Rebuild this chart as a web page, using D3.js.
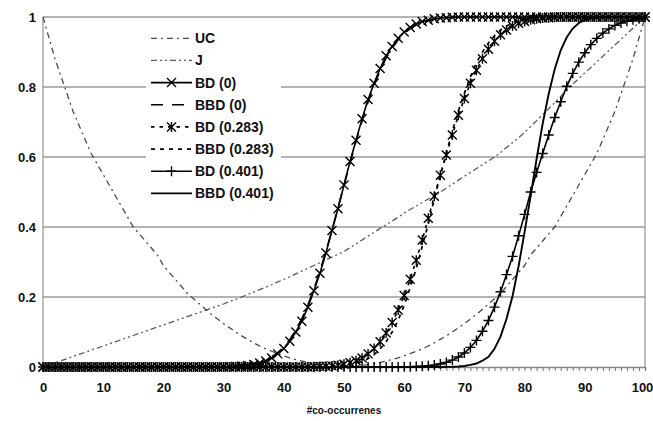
<!DOCTYPE html>
<html>
<head>
<meta charset="utf-8">
<script src="https://cdn.jsdelivr.net/npm/d3@7/dist/d3.min.js"></script>
<style>
  body { margin: 0; background: #fff; }
  text { font-family: "Liberation Sans", Arial, sans-serif; font-weight: bold; fill: #111; }
</style>
</head>
<body>
<div id="chart"></div>
<script>
// categories 0..100 (#co-occurrences)
var xCats = d3.range(0, 101);
var xTickLabels = [0, 10, 20, 30, 40, 50, 60, 70, 80, 90, 100];
var yTicks = [0, 0.2, 0.4, 0.6, 0.8, 1];

var seriesNames = ["UC", "J", "BD (0)", "BBD (0)", "BD (0.283)", "BBD (0.283)", "BD (0.401)", "BBD (0.401)"];

// values, one per category
var uc = [1.00,0.94,0.88,0.83,0.78,0.73,0.69,0.65,0.61,0.58,
  0.55,0.52,0.49,0.46,0.43,0.40,0.38,0.36,0.34,0.32,
  0.29,0.27,0.25,0.23,0.21,0.195,0.18,0.165,0.15,0.137,
  0.124,0.112,0.100,0.089,0.079,0.069,0.060,0.052,0.045,0.038,
  0.032,0.026,0.021,0.017,0.013,0.010,0.007,0.005,0.003,0.001,
  0.000,
  0.001,0.003,0.005,0.007,0.010,0.013,0.017,0.021,0.026,0.032,
  0.038,0.045,0.052,0.060,0.069,0.079,0.089,0.100,0.112,0.124,
  0.137,0.15,0.165,0.18,0.195,0.21,0.23,0.25,0.27,0.29,
  0.32,0.34,0.36,0.38,0.40,0.43,0.46,0.49,0.52,0.55,
  0.58,0.61,0.65,0.69,0.73,0.78,0.83,0.88,0.94,1.00];

var j = [0,0.006,0.012,0.018,0.024,0.03,0.036,0.042,0.048,0.054,
  0.06,0.066,0.072,0.078,0.084,0.09,0.096,0.102,0.108,0.114,
  0.12,0.126,0.132,0.138,0.144,0.15,0.156,0.162,0.168,0.174,
  0.18,0.187,0.193,0.200,0.207,0.214,0.221,0.228,0.235,0.243,
  0.25,0.258,0.266,0.274,0.282,0.290,0.298,0.306,0.314,0.322,
  0.330,0.341,0.352,0.363,0.374,0.385,0.396,0.406,0.417,0.428,
  0.440,0.450,0.460,0.470,0.480,0.490,0.500,0.511,0.522,0.534,
  0.545,0.556,0.567,0.578,0.589,0.600,0.613,0.627,0.641,0.655,
  0.670,0.687,0.704,0.721,0.738,0.755,0.773,0.791,0.808,0.824,
  0.840,0.856,0.872,0.888,0.904,0.920,0.936,0.952,0.968,0.984,
  1.0];

var bd0 = [0,0,0,0,0,0,0,0,0,0,
  0,0,0,0,0,0,0,0,0,0,
  0,0,0,0,0,0,0,0,0,0,
  0.0005,0.0009,0.0016,0.0027,0.0044,0.0071,0.0113,0.017,0.0256,0.0375,
  0.0526,0.0735,0.100,0.131,0.171,0.218,0.268,0.326,0.390,0.452,
  0.520,0.587,0.648,0.709,0.764,0.811,0.853,0.889,0.916,0.939,
  0.957,0.970,0.980,0.987,0.991,0.995,0.997,0.998,0.999,1,
  1,1,1,1,1,1,1,1,1,1,
  1,1,1,1,1,1,1,1,1,1,
  1,1,1,1,1,1,1,1,1,1,
  1];

var bbd0 = [0,0,0,0,0,0,0,0,0,0,
  0,0,0,0,0,0,0,0,0,0,
  0,0,0,0,0,0,0,0,0,0,
  0.0007,0.0012,0.002,0.0033,0.0053,0.0084,0.013,0.019,0.029,0.041,
  0.057,0.078,0.105,0.138,0.177,0.222,0.273,0.330,0.391,0.455,
  0.519,0.583,0.645,0.703,0.758,0.805,0.847,0.883,0.911,0.935,
  0.953,0.967,0.977,0.985,0.990,0.994,0.996,0.998,0.999,1,
  1,1,1,1,1,1,1,1,1,1,
  1,1,1,1,1,1,1,1,1,1,
  1,1,1,1,1,1,1,1,1,1,
  1];

var bd283 = [0,0,0,0,0,0,0,0,0,0,
  0,0,0,0,0,0,0,0,0,0,
  0,0,0,0,0,0,0,0,0,0,
  0,0,0,0,0,0,0,0,0,0,
  0,0,0,0,0,0.0007,0.0011,0.0019,0.0032,0.0051,
  0.008,0.0122,0.018,0.026,0.0375,0.0526,0.072,0.097,0.127,0.163,
  0.204,0.251,0.305,0.363,0.425,0.488,0.548,0.606,0.663,0.719,
  0.767,0.811,0.848,0.881,0.908,0.931,0.949,0.963,0.974,0.982,
  0.987,0.992,0.995,0.997,0.998,0.999,1,1,1,1,
  1,1,1,1,1,1,1,1,1,1,
  1];

var bbd283 = [0,0,0,0,0,0,0,0,0,0,
  0,0,0,0,0,0,0,0,0,0,
  0,0,0,0,0,0,0,0,0,0,
  0,0,0,0,0,0,0,0,0,0,
  0,0,0,0,0,0,0,0.0007,0.0012,0.0021,
  0.0037,0.006,0.0099,0.0154,0.0239,0.0352,0.0516,0.072,0.100,0.134,
  0.176,0.227,0.281,0.345,0.409,0.480,0.548,0.611,0.674,0.732,
  0.782,0.829,0.869,0.900,0.926,0.947,0.963,0.974,0.983,0.989,
  0.993,0.996,0.997,0.998,0.999,1,1,1,1,1,
  1,1,1,1,1,1,1,1,1,1,
  1];

var bd401 = [0,0,0,0,0,0,0,0,0,0,
  0,0,0,0,0,0,0,0,0,0,
  0,0,0,0,0,0,0,0,0,0,
  0,0,0,0,0,0,0,0,0,0,
  0,0,0,0,0,0,0,0,0,0,
  0,0,0,0,0,0,0,0,0,0,
  0.0004,0.0008,0.0013,0.0021,0.0035,0.0055,0.0087,0.0132,0.0197,0.0287,
  0.040,0.056,0.076,0.102,0.133,0.171,0.215,0.264,0.316,0.375,
  0.436,0.5,0.556,0.610,0.663,0.713,0.758,0.802,0.839,0.871,
  0.898,0.921,0.939,0.954,0.966,0.976,0.983,0.988,0.992,0.995,
  1];

var bbd401 = [0,0,0,0,0,0,0,0,0,0,
  0,0,0,0,0,0,0,0,0,0,
  0,0,0,0,0,0,0,0,0,0,
  0,0,0,0,0,0,0,0,0,0,
  0,0,0,0,0,0,0,0,0,0,
  0,0,0,0,0,0,0,0,0,0,
  0,0,0,0,0,0,0,0.0003,0.0007,0.0015,
  0.003,0.006,0.010,0.018,0.029,0.052,0.087,0.138,0.203,0.288,
  0.386,0.488,0.595,0.695,0.780,0.851,0.905,0.942,0.967,0.983,
  0.991,0.996,0.998,0.999,1,1,1,1,1,1,
  1];

var seriesValues = [uc, j, bd0, bbd0, bd283, bbd283, bd401, bbd401];

// drawing styles per series (same order as seriesNames)
var styles = [
  {stroke: "#4a4a4a", width: 1.3, dash: "6,4,2,4", marker: null},
  {stroke: "#5a5a5a", width: 1.3, dash: "6,3,2,3,2,3", marker: null},
  {stroke: "#000", width: 1.6, dash: null, marker: "x"},
  {stroke: "#000", width: 1.7, dash: "12,9", marker: null},
  {stroke: "#000", width: 1.6, dash: "3.5,5", marker: "star"},
  {stroke: "#000", width: 1.7, dash: "4,5", marker: null},
  {stroke: "#000", width: 1.6, dash: null, marker: "plus"},
  {stroke: "#000", width: 1.9, dash: null, marker: null}
];

var markerPath = {
  x: "M-4.5,-4.5L4.5,4.5M-4.5,4.5L4.5,-4.5",
  star: "M-4.5,-4.5L4.5,4.5M-4.5,4.5L4.5,-4.5M0,-5L0,5",
  plus: "M-5,0L5,0M0,-5L0,5"
};

var W = 653, H = 421,
    margin = {top: 17, right: 8, bottom: 54, left: 43},
    width = W - margin.left - margin.right,
    height = H - margin.top - margin.bottom;

var svg = d3.select("#chart").append("svg")
    .attr("width", W)
    .attr("height", H);

var g = svg.append("g")
    .attr("transform", "translate(" + margin.left + "," + margin.top + ")");

var xScale = d3.scaleLinear().domain([0, 100]).range([0, width]);
var yScale = d3.scaleLinear().domain([0, 1]).range([height, 0]);

// gridlines
g.selectAll(".grid")
  .data(yTicks.filter(function(d) { return d > 0; }))
  .enter().append("line")
    .attr("class", "grid")
    .attr("x1", 0).attr("x2", width)
    .attr("y1", function(d) { return yScale(d); })
    .attr("y2", function(d) { return yScale(d); })
    .attr("stroke", "#9a9a9a")
    .attr("stroke-width", 1.3);

// left / right borders
g.append("line").attr("x1", 0).attr("x2", 0).attr("y1", 0).attr("y2", height)
  .attr("stroke", "#9a9a9a").attr("stroke-width", 1.3);
g.append("line").attr("x1", width).attr("x2", width).attr("y1", 0).attr("y2", height)
  .attr("stroke", "#9a9a9a").attr("stroke-width", 1.3);

// x axis with a tick per category
var xAxis = d3.axisBottom(xScale)
    .tickValues(xCats)
    .tickSize(4)
    .tickPadding(12)
    .tickFormat(function(d) { return xTickLabels.indexOf(d) >= 0 ? d : ""; });

var gx = g.append("g")
    .attr("transform", "translate(0," + height + ")")
    .call(xAxis);
gx.select(".domain").attr("stroke", "#888").attr("stroke-width", 1.3);
gx.selectAll(".tick line").attr("stroke", "#777");
gx.selectAll(".tick text").style("font-size", "13px").style("font-weight", "bold")
  .attr("fill", "#111").style("font-family", "'Liberation Sans', Arial, sans-serif");
// keep the last label inside the picture
gx.selectAll(".tick text").filter(function(d) { return d === 100; }).attr("dx", "-3");

// y labels
var yAxis = d3.axisLeft(yScale).tickValues(yTicks).tickSize(0).tickPadding(7)
    .tickFormat(function(d) { return String(d); });
var gy = g.append("g").call(yAxis);
gy.select(".domain").remove();
gy.selectAll(".tick text").style("font-size", "13px").style("font-weight", "bold")
  .attr("fill", "#111").style("font-family", "'Liberation Sans', Arial, sans-serif");

// x title
svg.append("text")
  .attr("x", margin.left + width / 2)
  .attr("y", 414)
  .attr("text-anchor", "middle")
  .style("font-size", "10px")
  .text("#co-occurrenes");

// series
var line = d3.line()
    .x(function(d, i) { return xScale(xCats[i]); })
    .y(function(d) { return yScale(d); });

seriesValues.forEach(function(vals, s) {
  var st = styles[s];
  var sg = g.append("g").attr("class", "series");
  sg.append("path")
    .datum(vals)
    .attr("d", line)
    .attr("fill", "none")
    .attr("stroke", st.stroke)
    .attr("stroke-width", st.width)
    .attr("stroke-dasharray", st.dash);
  if (st.marker) {
    sg.selectAll(".mk")
      .data(vals)
      .enter().append("path")
        .attr("class", "mk")
        .attr("transform", function(d, i) { return "translate(" + xScale(xCats[i]) + "," + yScale(d) + ")"; })
        .attr("d", markerPath[st.marker])
        .attr("fill", "none")
        .attr("stroke", "#000")
        .attr("stroke-width", 1.4);
  }
});

// legend
var lg = svg.append("g").attr("transform", "translate(146,27)");
lg.append("rect").attr("width", 135).attr("height", 178).attr("fill", "#fff");

seriesNames.forEach(function(name, s) {
  var st = styles[s];
  var yy = 11.3 + s * 22.15;
  lg.append("line")
    .attr("x1", 5).attr("x2", 46)
    .attr("y1", yy).attr("y2", yy)
    .attr("stroke", st.stroke)
    .attr("stroke-width", st.width)
    .attr("stroke-dasharray", st.dash);
  if (st.marker) {
    lg.append("path")
      .attr("transform", "translate(25.5," + yy + ")")
      .attr("d", markerPath[st.marker])
      .attr("fill", "none")
      .attr("stroke", "#000")
      .attr("stroke-width", 1.4);
  }
  lg.append("text")
    .attr("x", 49)
    .attr("y", yy)
    .attr("dy", "0.36em")
    .style("font-size", "14px")
    .text(name);
});
</script>
</body>
</html>
